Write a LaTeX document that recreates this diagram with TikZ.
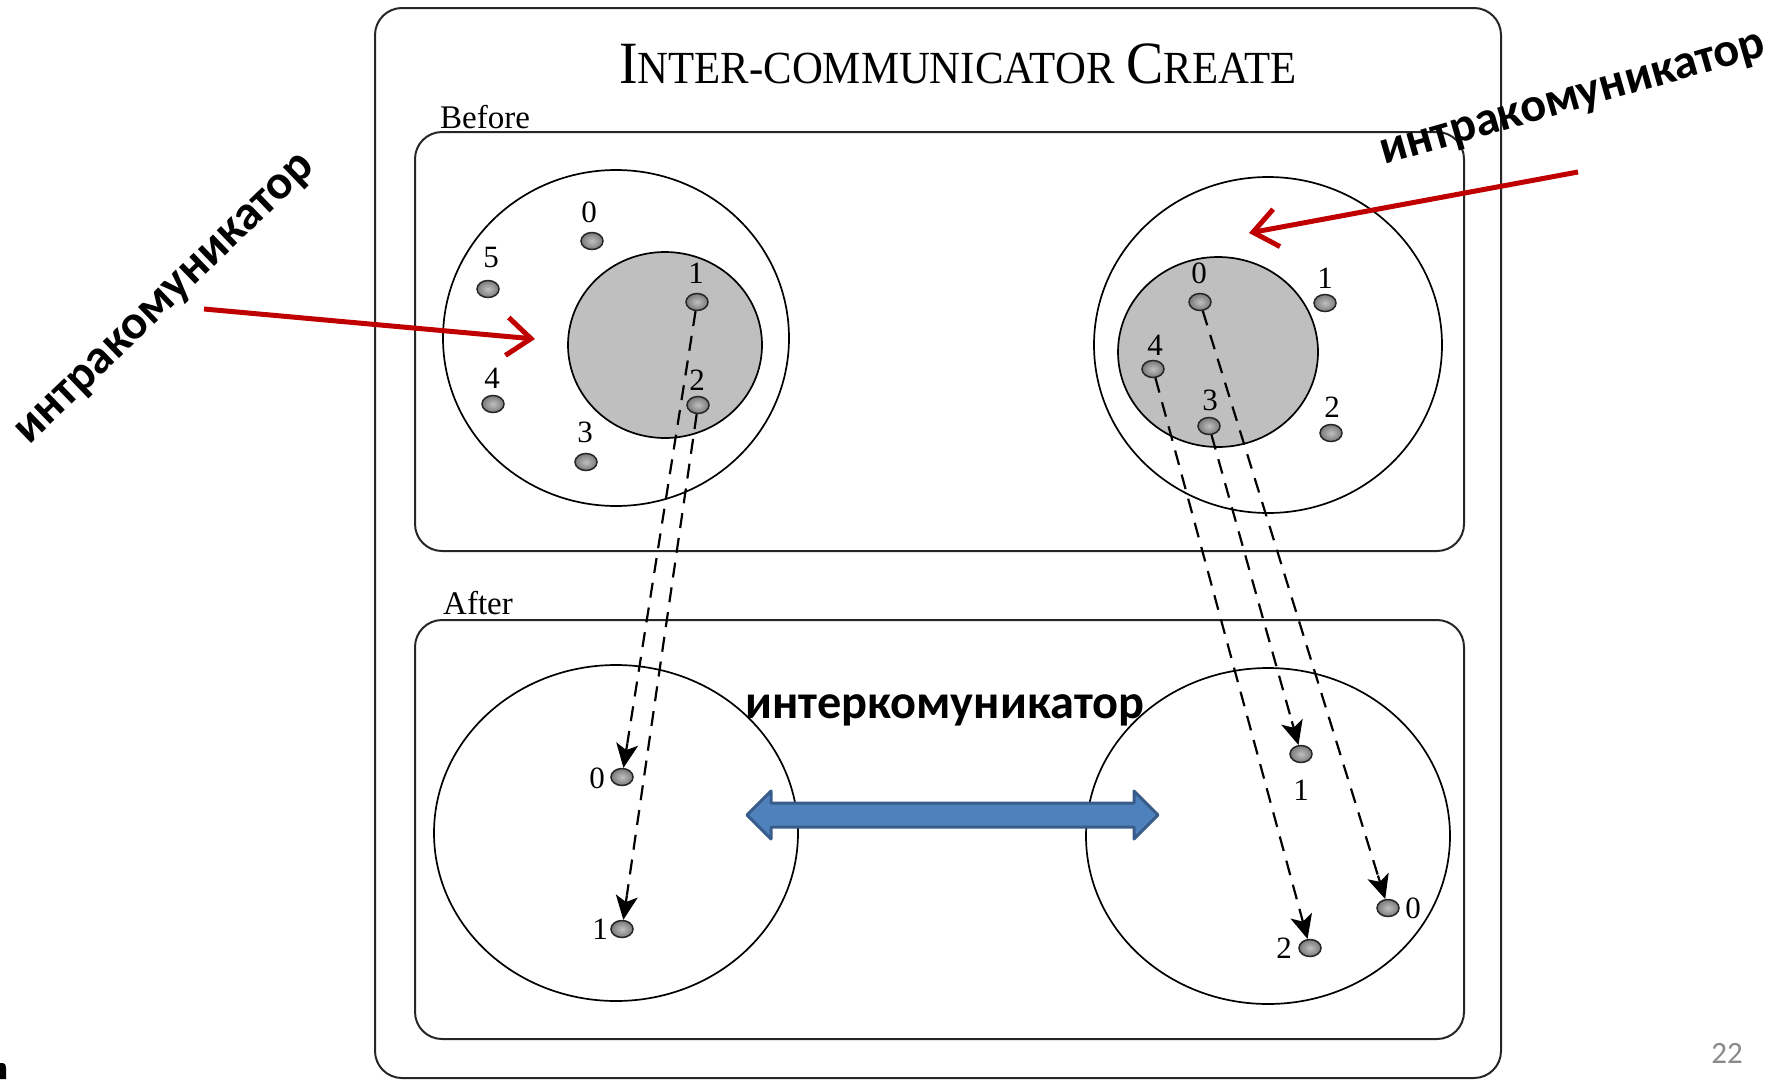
\documentclass[tikz,border=0pt]{standalone}
\usepackage{fontspec}
\setmainfont{Liberation Serif}
\newfontfamily\carlito{Carlito}
\usetikzlibrary{arrows.meta,shapes.geometric,calc}

\definecolor{callred}{HTML}{C00000}
\definecolor{arrowblue}{HTML}{4F81BD}
\definecolor{arrowedge}{HTML}{385D8A}
\definecolor{ranknum}{HTML}{8A8A8A}

% fake small caps: large initial, smaller capitals after it
\newcommand\capsword[2]{{\fontsize{60}{60}\selectfont #1}{\fontsize{46}{46}\selectfont #2}}

\tikzset{
  panel/.style={draw=black!85, line width=2pt, rounded corners=27pt},
  group/.style={draw=black, line width=1.7pt},
  subgroup/.style={draw=black, line width=1.7pt, fill=gray!50},
  proc/.style={ellipse, inner sep=0pt, minimum width=22pt, minimum height=17pt,
    draw=black!85, line width=1.5pt, shading=radial, inner color=gray!50, outer color=gray!95!black},
  rank/.style={font=\fontsize{31}{31}\selectfont, inner sep=0pt},
  section/.style={font=\fontsize{33}{33}\selectfont, inner sep=0pt, anchor=base west},
  mapping/.style={dash pattern=on 15pt off 10pt, line width=2.2pt},
  mapping head/.style={solid, line width=2.2pt, -{Stealth[length=24pt, width=22pt, inset=6pt]}},
  callout/.style={draw=callred, line width=5pt,
    -{Straight Barb[length=24pt, width=38pt]}},
  note/.style={font=\carlito\bfseries\fontsize{48.3}{48.3}\selectfont, inner sep=0pt},
}

\begin{document}
\begin{tikzpicture}[x=1pt, y=-1pt]
\useasboundingbox (0,0) rectangle (1780,1079);

% frames
\draw[panel] (375,8) rectangle (1501,1078);
\draw[panel] (415,132) rectangle (1464,551);
\draw[panel] (415,620) rectangle (1464,1039);

% title and section captions
\node[inner sep=0pt, anchor=base] (title) at (958,83)
  {\scalebox{0.93}[1]{\capsword{I}{NTER-COMMUNICATOR}\hspace{13pt}\capsword{C}{REATE}}};
\node[section] (before) at (440,128) {Before};
\node[section] (after) at (443,614) {After};

% groups before the call
\draw[group] (616,338) ellipse [x radius=173, y radius=168];
\draw[subgroup] (665,345) ellipse [x radius=97, y radius=93];
\draw[group] (1268,345) ellipse [x radius=174, y radius=168];
\draw[subgroup] (1218,352) ellipse [x radius=100, y radius=95];

% groups after the call
\draw[group] (616,833) ellipse [x radius=182, y radius=168];
\draw[group] (1268,836) ellipse [x radius=182, y radius=168];

% left group, before
\node[proc] (a0) at (592,241) {};
\node[proc] (a1) at (697,302) {};
\node[proc] (a2) at (698,405) {};
\node[proc] (a3) at (586,462) {};
\node[proc] (a4) at (493,404) {};
\node[proc] (a5) at (488,289) {};
\node[rank] at (589,212) {0};
\node[rank] at (696,273) {1};
\node[rank] at (697,380) {2};
\node[rank] at (585,432) {3};
\node[rank] at (492,378) {4};
\node[rank] at (491,257) {5};

% right group, before
\node[proc] (b0) at (1200,302) {};
\node[proc] (b1) at (1325,303) {};
\node[proc] (b2) at (1331,433) {};
\node[proc] (b3) at (1209,426) {};
\node[proc] (b4) at (1153,369) {};
\node[rank] at (1199,273) {0};
\node[rank] at (1325,278) {1};
\node[rank] at (1332,407) {2};
\node[rank] at (1210,400) {3};
\node[rank] at (1155,345) {4};

% left group, after
\node[proc] (c0) at (622,777) {};
\node[proc] (c1) at (622,929) {};
\node[rank] at (597,778) {0};
\node[rank] at (600,929) {1};

% right group, after
\node[proc] (d0) at (1388,908) {};
\node[proc] (d1) at (1301,754) {};
\node[proc] (d2) at (1310,948) {};
\node[rank] at (1413,908) {0};
\node[rank] at (1301,790) {1};
\node[rank] at (1284,948) {2};

% rank mapping: dashed shaft, solid head ending on the target process
\foreach \src/\dst in {a1/c0, a2/c1, b0/d0, b3/d1, b4/d2}{
  \draw[mapping] (\src) -- ($(\dst)!34pt!(\src)$);
  \draw[mapping head] ($(\dst)!34pt!(\src)$) -- (\dst);
}

% inter-communicator link
\draw[line width=3pt, draw=arrowedge, fill=arrowblue, line join=round]
  (747,815) -- (771,791) -- (771,803) -- (1134,803) -- (1134,791) -- (1158,815)
  -- (1134,839) -- (1134,827) -- (771,827) -- (771,839) -- cycle;
\node[note] (inter) at (945,710) {интеркомуникатор};

% intra-communicator callouts
\node[note, rotate=44] (intraL) at (167,301) {интракомуникатор};
\node[note, rotate=16] (intraR) at (1574,102) {интракомуникатор};
\coordinate (pL) at (204,309);
\coordinate (tL) at (535,339);
\coordinate (pR) at (1578,172);
\coordinate (tR) at (1249,233);
\draw[callout] (pL) -- (tL);
\draw[callout] (pR) -- (tR);

% slide number and clipped glyph at the corner
\node[font=\carlito\fontsize{31}{31}\selectfont, text=ranknum, inner sep=0pt] (page) at (1727,1053) {22};
\fill (0,1063) -- (3,1063) to[out=0,in=90] (6,1068) -- (6,1079) -- (0,1079) -- cycle;
\end{tikzpicture}
\end{document}
